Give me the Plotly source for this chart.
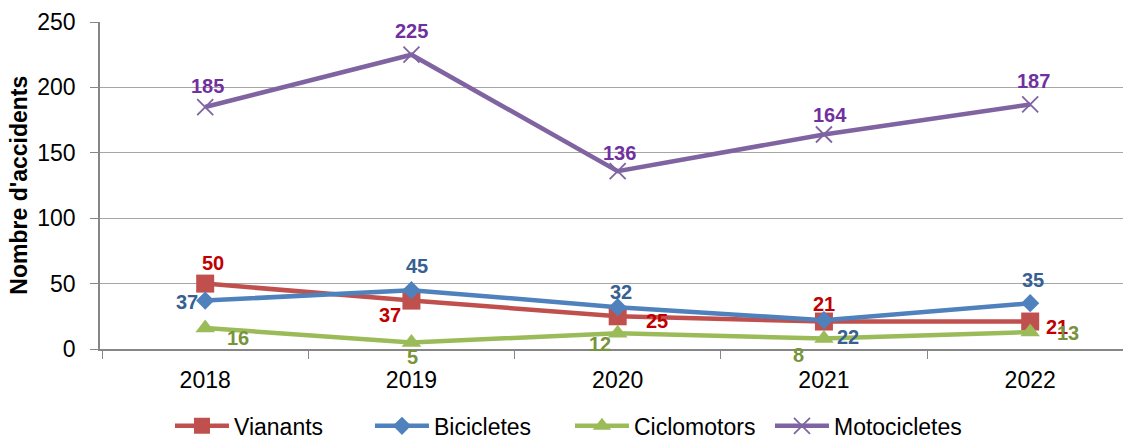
import plotly.graph_objects as go

years = ["2018", "2019", "2020", "2021", "2022"]
vianants = [50, 37, 25, 21, 21]
bicicletes = [37, 45, 32, 22, 35]
ciclomotors = [16, 5, 12, 8, 13]
motocicletes = [185, 225, 136, 164, 187]

# label offsets in pixels (dx, dy with dy positive = up)
off_vianants = [(8, 21), (-21, -14), (39, -5), (0, 18), (27, -5)]
off_bicicletes = [(-18, -1), (6, 24), (3, 15), (24, -17), (3, 23)]
off_ciclomotors = [(33, -10), (1, -15), (-18, -11), (-25, -16), (38, -1)]
off_moto = [(2, 21), (0, 24), (2, 18), (6, 19), (3, 23)]

FONT = "Liberation Sans, Arial, sans-serif"

fig = go.Figure()
annotations = []

def add(name, vals, color, tcolor, symbol, size, offs, mline=None):
    marker = dict(symbol=symbol, size=size, color=color)
    if mline:
        marker["line"] = dict(color=color, width=mline)
    fig.add_trace(go.Scatter(
        x=years, y=vals, name=name, mode="lines+markers",
        line=dict(color=color, width=4.5),
        marker=marker, cliponaxis=False,
    ))
    for i, (v, (dx, dy)) in enumerate(zip(vals, offs)):
        annotations.append(dict(
            x=i, y=v, xref="x", yref="y", text=str(v), showarrow=False,
            xshift=dx, yshift=dy, xanchor="center", yanchor="middle",
            font=dict(family=FONT, size=20, color=tcolor, weight="bold"),
        ))

add("Vianants", vianants, "#C0504D", "#C00000", "square", 18, off_vianants)
add("Bicicletes", bicicletes, "#4F81BD", "#376092", "diamond", 14, off_bicicletes)
add("Ciclomotors", ciclomotors, "#9BBB59", "#77933C", "triangle-up", 17, off_ciclomotors)
add("Motocicletes", motocicletes, "#8064A2", "#7030A0", "x-thin-open", 16, off_moto, mline=1.8)

annotations.append(dict(
    text="Nombre d'accidents", xref="paper", yref="paper", x=-0.080, y=0.5,
    textangle=-90, showarrow=False, xanchor="center", yanchor="middle",
    font=dict(family=FONT, size=23, color="black", weight="bold"),
))

fig.update_layout(
    width=1123, height=439,
    margin=dict(l=100, r=0, t=22, b=90),
    plot_bgcolor="white", paper_bgcolor="white",
    font=dict(family=FONT, size=23, color="black"),
    showlegend=True,
    annotations=annotations,
    legend=dict(orientation="h", xref="paper", x=0.0684, xanchor="left",
                yref="container", y=0.03, yanchor="middle",
                font=dict(size=23), itemwidth=54,
                entrywidth=131, entrywidthmode="pixels",
                traceorder="normal"),
    xaxis=dict(type="category", range=[-0.51, 4.45], showgrid=False,
               showline=True, linecolor="#868686", linewidth=1.5,
               ticks="outside", tickcolor="#868686", ticklen=8,
               tickson="boundaries", tickfont=dict(size=23),
               ticklabelstandoff=10, automargin=False),
    yaxis=dict(range=[0, 250], tickvals=[0, 50, 100, 150, 200, 250],
               showgrid=True, gridcolor="#A6A6A6", gridwidth=1.3,
               showline=True, linecolor="#868686", linewidth=1.5,
               ticks="outside", tickcolor="#868686", ticklen=8,
               tickfont=dict(size=23), zeroline=False,
               ticklabelstandoff=10, automargin=False),
)

fig.write_html("out.html", config={"displayModeBar": False},
               post_script="document.body.style.margin='0';document.body.style.overflow='hidden';")
